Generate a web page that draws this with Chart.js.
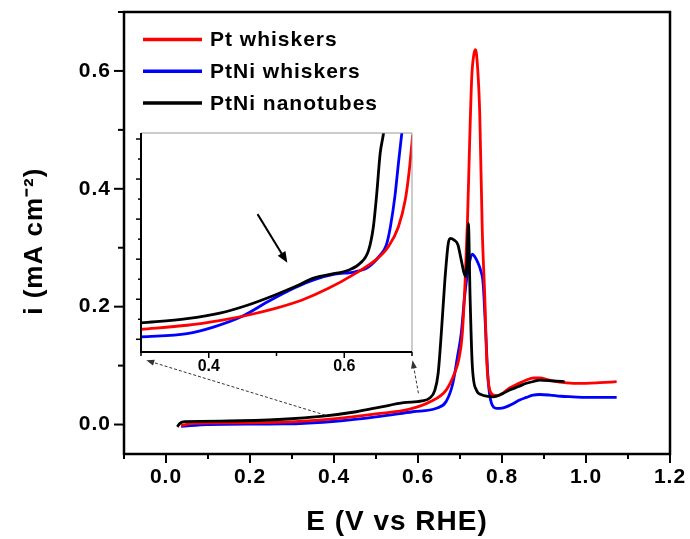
<!DOCTYPE html>
<html>
<head>
<meta charset="utf-8">
<script src="https://cdn.jsdelivr.net/npm/chart.js@4.4.0/dist/chart.umd.min.js"></script>
<style>
  html, body { margin: 0; padding: 0; background: #fff; }
  #wrap { position: relative; width: 690px; height: 539px; }
  #main { position: absolute; left: 0; top: 0; }
  #inset { position: absolute; left: 126px; top: 126px; }
</style>
</head>
<body>
<div id="wrap">
  <canvas id="main" width="690" height="539"></canvas>
  <canvas id="inset" width="300" height="262"></canvas>
</div>
<script>
const seriesNames = ["Pt whiskers", "PtNi whiskers", "PtNi nanotubes"];
const seriesColors = ["rgb(255, 0, 0)", "rgb(0, 0, 255)", "rgb(0, 0, 0)"];

// main plot, E in V vs RHE, i in mA cm-2
const ptE = [0.036, 0.06, 0.15, 0.28, 0.41, 0.50, 0.58, 0.63, 0.667, 0.687, 0.697, 0.705, 0.712, 0.718, 0.723, 0.728, 0.733, 0.737, 0.742, 0.747, 0.753, 0.759, 0.764, 0.771, 0.78, 0.79, 0.80, 0.818, 0.838, 0.858, 0.875, 0.89, 0.91, 0.93, 0.95, 0.97, 1.0, 1.033, 1.073];
const ptI = [-0.002, 0.002, 0.003, 0.004, 0.0105, 0.018, 0.026, 0.039, 0.0585, 0.087, 0.11, 0.15, 0.24, 0.35, 0.48, 0.59, 0.628, 0.636, 0.605, 0.528, 0.33, 0.217, 0.104, 0.0585, 0.05, 0.049, 0.052, 0.062, 0.069, 0.0755, 0.079, 0.079, 0.076, 0.0727, 0.071, 0.07, 0.07, 0.071, 0.0727];

const ptniE = [0.036, 0.1, 0.28, 0.41, 0.50, 0.587, 0.644, 0.667, 0.683, 0.694, 0.703, 0.711, 0.719, 0.724, 0.729, 0.736, 0.743, 0.749, 0.755, 0.761, 0.767, 0.775, 0.787, 0.80, 0.81, 0.825, 0.842, 0.858, 0.874, 0.89, 0.914, 0.94, 0.969, 1.0, 1.073];
const ptniI = [-0.003, 0.0, 0.001, 0.006, 0.013, 0.0217, 0.0275, 0.039, 0.07, 0.115, 0.155, 0.217, 0.262, 0.28, 0.289, 0.284, 0.274, 0.262, 0.24, 0.16, 0.0755, 0.036, 0.0275, 0.028, 0.030, 0.035, 0.0416, 0.046, 0.05, 0.051, 0.05, 0.048, 0.047, 0.046, 0.046];

const tubeE = [0.027, 0.033, 0.045, 0.149, 0.279, 0.375, 0.453, 0.513, 0.566, 0.609, 0.628, 0.64, 0.648, 0.656, 0.664, 0.672, 0.677, 0.686, 0.695, 0.703, 0.713, 0.717, 0.720, 0.724, 0.729, 0.739, 0.75, 0.763, 0.779, 0.80, 0.818, 0.838, 0.858, 0.875, 0.89, 0.922, 0.949];
const tubeI = [-0.004, 0.002, 0.005, 0.006, 0.009, 0.0144, 0.0217, 0.030, 0.037, 0.040, 0.045, 0.058, 0.087, 0.16, 0.245, 0.307, 0.316, 0.313, 0.305, 0.279, 0.251, 0.28, 0.341, 0.217, 0.104, 0.0585, 0.051, 0.048, 0.047, 0.052, 0.0585, 0.064, 0.07, 0.073, 0.0755, 0.074, 0.0727];

const xMajorTicks = [0, 0.2, 0.4, 0.6, 0.8, 1.0, 1.2];
const xMinorTicks = [-0.1, 0.1, 0.3, 0.5, 0.7, 0.9, 1.1];
const yMajorTicks = [0, 0.2, 0.4, 0.6];
const yMinorTicks = [0.1, 0.3, 0.5, 0.7];

// inset (zoom of 0.3 - 0.7 V), current in arbitrary units
const insetPtE = [0.30, 0.368, 0.418, 0.457, 0.497, 0.537, 0.576, 0.616, 0.646, 0.665, 0.680, 0.690, 0.696, 0.701];
const insetPtI = [0.5, 0.7, 0.95, 1.2, 1.53, 1.95, 2.53, 3.28, 3.95, 4.62, 5.62, 6.95, 8.45, 10.2];
const insetPtniE = [0.30, 0.368, 0.408, 0.448, 0.487, 0.527, 0.556, 0.586, 0.616, 0.636, 0.653, 0.662, 0.668, 0.675, 0.680, 0.685, 0.689];
const insetPtniI = [0.12, 0.28, 0.62, 1.12, 1.87, 2.57, 2.98, 3.25, 3.37, 3.62, 4.2, 4.7, 5.6, 7.2, 8.8, 10.3, 11.5];
const insetTubeE = [0.30, 0.368, 0.418, 0.457, 0.497, 0.527, 0.556, 0.581, 0.606, 0.623, 0.636, 0.643, 0.648, 0.653, 0.658, 0.662];
const insetTubeI = [0.82, 1.03, 1.32, 1.70, 2.20, 2.62, 3.07, 3.25, 3.45, 3.78, 4.45, 5.62, 7.28, 9.28, 10.3, 11.5];

const insetXMajor = [0.4, 0.6];
const insetXMinor = [0.3, 0.5, 0.7];
const insetYTicks = [0, 1, 2, 3, 4, 5, 6, 7, 8, 9, 10];

// arrows, in data units
const zoomArrows = [
  { from: [0.379, 0.016], to: [-0.047, 0.109] },
  { from: [0.601, 0.053], to: [0.587, 0.109] },
];
const insetArrow = { from: [0.472, 6.25], to: [0.516, 3.82] };

const FONT = '"Liberation Sans", Arial, sans-serif';

function toPoints(xs, ys) {
  return xs.map((x, i) => ({ x: x, y: ys[i] }));
}

function makeSets(list) {
  return list.map((d, i) => ({
    label: seriesNames[i],
    data: toPoints(d[0], d[1]),
    borderColor: seriesColors[i],
    backgroundColor: seriesColors[i],
    borderWidth: 2.8,
    pointRadius: 0,
    cubicInterpolationMode: "monotone",
    order: i === 2 ? 0 : i + 1,
  }));
}

function tick(ctx, x, y, dx, dy) {
  ctx.beginPath();
  ctx.moveTo(x, y);
  ctx.lineTo(x + dx, y + dy);
  ctx.stroke();
}

function arrow(ctx, x1, y1, x2, y2, len, half) {
  const ang = Math.atan2(y2 - y1, x2 - x1);
  ctx.beginPath();
  ctx.moveTo(x1, y1);
  ctx.lineTo(x2 - Math.cos(ang) * len * 0.6, y2 - Math.sin(ang) * len * 0.6);
  ctx.stroke();
  ctx.setLineDash([]);
  ctx.beginPath();
  ctx.moveTo(x2, y2);
  ctx.lineTo(x2 - Math.cos(ang) * len - Math.sin(ang) * half, y2 - Math.sin(ang) * len + Math.cos(ang) * half);
  ctx.lineTo(x2 - Math.cos(ang) * len + Math.sin(ang) * half, y2 - Math.sin(ang) * len - Math.cos(ang) * half);
  ctx.closePath();
  ctx.fill();
}

function fixedTicks(values) {
  return (scale) => {
    scale.ticks = values.slice().sort((a, b) => a - b).map((v) => ({ value: v }));
  };
}

const mainFrame = {
  id: "mainFrame",
  beforeDraw(chart) {
    chart.ctx.letterSpacing = "1px";
  },
  afterDatasetsDraw(chart) {
    const { ctx, scales: { x, y } } = chart;
    ctx.save();
    ctx.strokeStyle = "#333";
    ctx.fillStyle = "#333";
    ctx.lineWidth = 1;
    zoomArrows.forEach((a) => {
      ctx.setLineDash([3, 2]);
      arrow(ctx, x.getPixelForValue(a.from[0]), y.getPixelForValue(a.from[1]),
        x.getPixelForValue(a.to[0]), y.getPixelForValue(a.to[1]), 8, 3);
    });
    ctx.restore();
  },
  afterDraw(chart) {
    const { ctx, chartArea: a, scales: { x, y } } = chart;
    ctx.save();
    ctx.strokeStyle = "#000";
    ctx.lineWidth = 2.5;
    ctx.strokeRect(a.left, a.top, a.right - a.left, a.bottom - a.top);
    ctx.lineWidth = 2;
    xMajorTicks.forEach((v) => tick(ctx, x.getPixelForValue(v), a.bottom, 0, 9));
    xMinorTicks.forEach((v) => tick(ctx, x.getPixelForValue(v), a.bottom, 0, 5));
    yMajorTicks.forEach((v) => tick(ctx, a.left, y.getPixelForValue(v), -10, 0));
    yMinorTicks.forEach((v) => tick(ctx, a.left, y.getPixelForValue(v), -6, 0));

    // legend
    ctx.font = "bold 21px " + FONT;
    ctx.textBaseline = "middle";
    ctx.textAlign = "left";
    chart.data.datasets.forEach((ds, i) => {
      const yy = a.top + 27.5 + i * 31.8;
      ctx.strokeStyle = ds.borderColor;
      ctx.lineWidth = 3.5;
      tick(ctx, a.left + 19, yy, 59, 0);
      ctx.fillStyle = "#000";
      ctx.fillText(ds.label, a.left + 86, yy + 1);
    });
    ctx.restore();
  },
};

new Chart(document.getElementById("main"), {
  type: "line",
  data: {
    datasets: makeSets([[ptE, ptI], [ptniE, ptniI], [tubeE, tubeI]]),
  },
  options: {
    responsive: false,
    animation: false,
    layout: { padding: { top: 12, right: 20, left: 0, bottom: 0 } },
    plugins: { legend: { display: false }, tooltip: { enabled: false } },
    scales: {
      x: {
        type: "linear",
        min: -0.1,
        max: 1.2,
        grid: { display: false, drawTicks: false, tickLength: 0 },
        border: { display: false },
        afterBuildTicks: fixedTicks(xMajorTicks.concat(xMinorTicks)),
        afterFit: (s) => { s.height = 85; s.paddingLeft = 0; s.paddingRight = 0; },
        ticks: {
          autoSkip: false,
          maxRotation: 0,
          padding: 11,
          color: "#000",
          font: { family: FONT, size: 21, weight: "bold" },
          callback: (v) => (xMajorTicks.includes(v) ? v.toFixed(1) : ""),
        },
        title: {
          display: true,
          text: "E (V vs RHE)",
          color: "#000",
          font: { family: FONT, size: 28, weight: "bold" },
          padding: { top: 0, bottom: 0 },
        },
      },
      y: {
        type: "linear",
        min: -0.05,
        max: 0.7,
        grid: { display: false, drawTicks: false, tickLength: 0 },
        border: { display: false },
        afterBuildTicks: fixedTicks(yMajorTicks.concat(yMinorTicks)),
        afterFit: (s) => { s.width = 124; s.paddingTop = 0; s.paddingBottom = 0; },
        ticks: {
          autoSkip: false,
          padding: 13,
          color: "#000",
          font: { family: FONT, size: 21, weight: "bold" },
          callback: (v) => (yMajorTicks.includes(v) ? v.toFixed(1) : ""),
        },
        title: {
          display: true,
          text: "i (mA cm\u207B\u00B2)  ",
          color: "#000",
          font: { family: FONT, size: 26, weight: "bold" },
          padding: { top: 19, bottom: 0 },
        },
      },
    },
  },
  plugins: [mainFrame],
});

const insetFrame = {
  id: "insetFrame",
  afterDraw(chart) {
    const { ctx, chartArea: a, scales: { x, y } } = chart;
    ctx.save();
    ctx.strokeStyle = "#999";
    ctx.lineWidth = 1;
    ctx.beginPath();
    ctx.moveTo(a.left, a.top);
    ctx.lineTo(a.right, a.top);
    ctx.lineTo(a.right, a.bottom);
    ctx.stroke();
    ctx.strokeStyle = "#000";
    ctx.lineWidth = 2;
    ctx.beginPath();
    ctx.moveTo(a.left, a.top);
    ctx.lineTo(a.left, a.bottom);
    ctx.lineTo(a.right, a.bottom);
    ctx.stroke();
    ctx.lineWidth = 1.5;
    insetXMajor.forEach((v) => tick(ctx, x.getPixelForValue(v), a.bottom, 0, 6));
    insetXMinor.forEach((v) => tick(ctx, x.getPixelForValue(v), a.bottom, 0, 4));
    insetYTicks.forEach((v) => tick(ctx, a.left, y.getPixelForValue(v), v % 2 === 0 ? -5 : -3, 0));

    ctx.strokeStyle = "#000";
    ctx.fillStyle = "#000";
    ctx.lineWidth = 2;
    arrow(ctx, x.getPixelForValue(insetArrow.from[0]), y.getPixelForValue(insetArrow.from[1]),
      x.getPixelForValue(insetArrow.to[0]), y.getPixelForValue(insetArrow.to[1]), 11, 4.5);
    ctx.restore();
  },
};

new Chart(document.getElementById("inset"), {
  type: "line",
  data: {
    datasets: makeSets([[insetPtE, insetPtI], [insetPtniE, insetPtniI], [insetTubeE, insetTubeI]]),
  },
  options: {
    responsive: false,
    animation: false,
    layout: { padding: { top: 7, right: 14, left: 0, bottom: 0 } },
    plugins: { legend: { display: false }, tooltip: { enabled: false } },
    scales: {
      x: {
        type: "linear",
        min: 0.3,
        max: 0.7,
        grid: { display: false, drawTicks: false, tickLength: 0 },
        border: { display: false },
        afterBuildTicks: fixedTicks(insetXMajor.concat(insetXMinor)),
        afterFit: (s) => { s.height = 36; s.paddingLeft = 0; s.paddingRight = 0; },
        ticks: {
          autoSkip: false,
          maxRotation: 0,
          padding: 5,
          color: "#000",
          font: { family: FONT, size: 16, weight: "bold" },
          callback: (v) => (insetXMajor.includes(v) ? v.toFixed(1) : ""),
        },
      },
      y: {
        type: "linear",
        min: -0.635,
        max: 10.3,
        grid: { display: false, drawTicks: false, tickLength: 0 },
        border: { display: false },
        afterFit: (s) => { s.width = 15; s.paddingTop = 0; s.paddingBottom = 0; },
        ticks: { display: false },
      },
    },
  },
  plugins: [insetFrame],
});
</script>
</body>
</html>
